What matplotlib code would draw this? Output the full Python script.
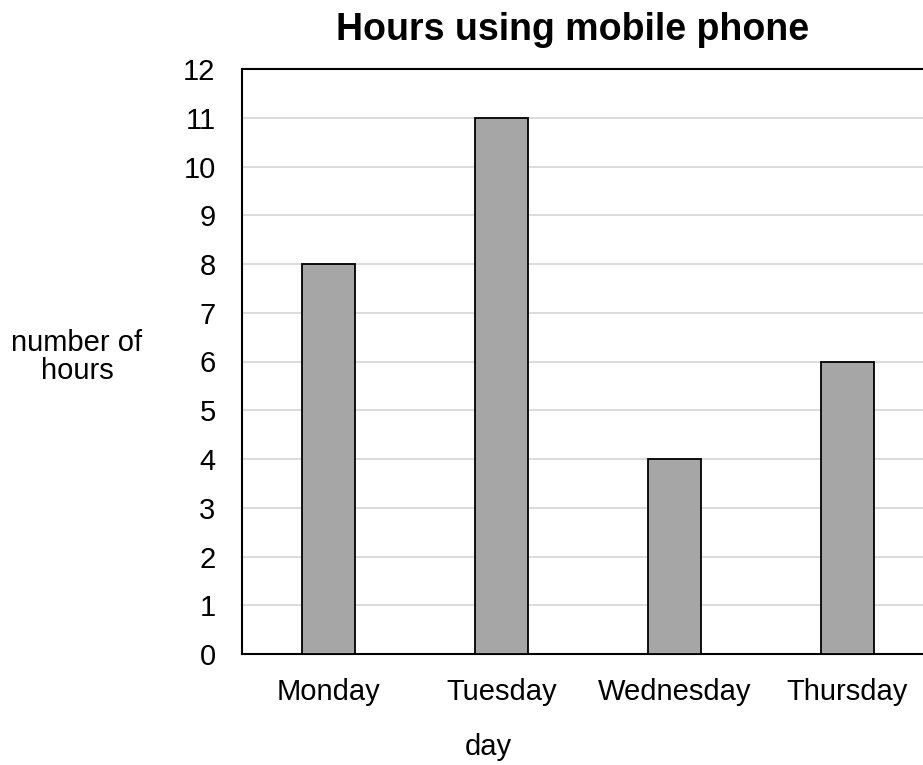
import matplotlib.pyplot as plt
import numpy as np

plt.rcParams['font.family'] = ['Liberation Sans', 'DejaVu Sans']

days = ['Monday', 'Tuesday', 'Wednesday', 'Thursday']
hours = [8, 11, 4, 6]

fig = plt.figure(figsize=(9.23, 7.65), dpi=100)
ax = fig.add_axes([242 / 923, 111 / 765, 692 / 923, 585 / 765])

x = np.arange(len(days))
ax.bar(x, hours, width=0.31, color='#a6a6a6', edgecolor='black', linewidth=1.3, zorder=3)

ax.set_xlim(-0.5, 3.5)
ax.set_ylim(0, 12)
ax.set_yticks(range(0, 13))
ax.set_xticks(x)
ax.set_xticklabels(days)
ax.tick_params(axis='both', length=0, labelsize=21)
ax.tick_params(axis='y', pad=19)
ax.tick_params(axis='x', pad=17)
ax.grid(axis='y', color='#d9d9d9', linewidth=1.3, zorder=0)
for s in ax.spines.values():
    s.set_linewidth(1.5)
    s.set_color('black')

fig.text(573 / 923, 1 - 30 / 765, 'Hours using mobile phone', ha='center', va='center',
         fontsize=27, fontweight='bold')
fig.text(77 / 923, 1 - 357 / 765, 'number of\nhours', ha='center', va='center',
         fontsize=21, linespacing=1.0)
fig.text(488 / 923, 1 - 747 / 765, 'day', ha='center', va='center', fontsize=21)

fig.savefig('out.png', dpi=100)
